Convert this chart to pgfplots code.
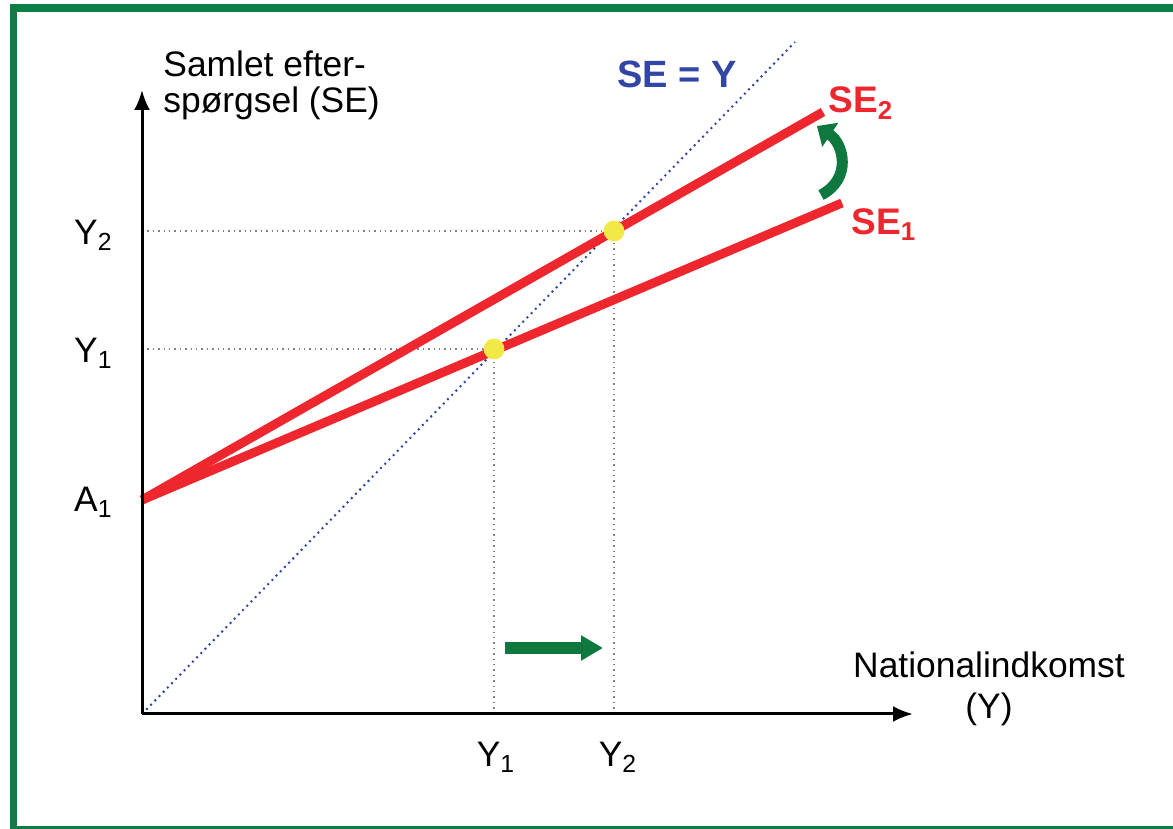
\documentclass[border=0pt]{standalone}
\usepackage{pgfplots}
\pgfplotsset{compat=1.18}
\usepackage{fontspec}
\setmainfont{Liberation Sans}
\usetikzlibrary{arrows.meta}
\definecolor{frame}{RGB}{12,125,68}
\definecolor{sered}{RGB}{238,38,45}
\definecolor{seblue}{RGB}{50,70,165}
\definecolor{dotyel}{RGB}{242,232,70}
\definecolor{arrgreen}{RGB}{14,120,62}
\begin{document}
\begin{tikzpicture}
\begin{axis}[
  scale only axis, width=586.5pt, height=414.5pt,
  xmin=-142, xmax=1031, ymin=-115, ymax=714,
  axis lines=none, clip=false,
]
% frame (runs off right and bottom edges)
\begin{scope}
\clip (rel axis cs:0,0) rectangle (rel axis cs:1,1);
\draw[frame, line width=3.8pt] (axis cs:-128.5,706) rectangle (axis cs:1045,-116);
\end{scope}
% guide lines
\addplot[gray, dotted, line width=0.7pt] coordinates {(352,0) (352,365)};
\addplot[gray, dotted, line width=0.7pt] coordinates {(472,0) (472,483)};
\addplot[gray, dotted, line width=0.7pt] coordinates {(0,365) (352,365)};
\addplot[gray, dotted, line width=0.7pt] coordinates {(0,483) (472,483)};
% 45 degree line
\addplot[seblue, dotted, line width=1pt] coordinates {(0,0) (653,672)};
% SE lines
\addplot[sered, line width=4.5pt] coordinates {(0,214) (700,511)};
\addplot[sered, line width=4.5pt] coordinates {(0,214) (681,602)};
% axes
\draw[black, line width=1.5pt, -{Latex[length=10pt,width=8pt]}] (axis cs:0,0) -- (axis cs:0,624);
\draw[black, line width=1.5pt, -{Latex[length=10pt,width=8pt]}] (axis cs:0,0) -- (axis cs:771,0);
% equilibrium dots
\addplot[only marks, mark=*, mark size=5pt, dotyel, mark options={draw=none, fill=dotyel}] coordinates {(352,365) (472,483)};
% green arrows
\draw[arrgreen, line width=6pt, -{Triangle[length=11pt,width=12pt]}] (axis cs:363,66) -- (axis cs:461,66);
\draw[arrgreen, line width=5.5pt, -{Triangle[length=8pt,width=14pt]}] (axis cs:679,519) .. controls (axis cs:710,535) and (axis cs:702,570) .. (axis cs:675,588);
% texts
\node[anchor=base west, font=\fontsize{17.7}{18}\selectfont, inner sep=0pt] at (axis cs:21,637) {Samlet efter-};
\node[anchor=base west, font=\fontsize{17.7}{18}\selectfont, inner sep=0pt] at (axis cs:21,601) {sp\o rgsel (SE)};
\node[anchor=base, font=\fontsize{17.7}{18}\selectfont] at (axis cs:847,36) {Nationalindkomst};
\node[anchor=base, font=\fontsize{17.7}{18}\selectfont] at (axis cs:847,-5) {(Y)};
\node[anchor=base east, font=\fontsize{17.7}{18}\selectfont, inner sep=0pt] at (axis cs:-29,469) {Y\textsubscript{2}};
\node[anchor=base east, font=\fontsize{17.7}{18}\selectfont, inner sep=0pt] at (axis cs:-29,351) {Y\textsubscript{1}};
\node[anchor=base east, font=\fontsize{17.7}{18}\selectfont, inner sep=0pt] at (axis cs:-29,202) {A\textsubscript{1}};
\node[anchor=base, font=\fontsize{17.7}{18}\selectfont, inner sep=0pt] at (axis cs:354,-53) {Y\textsubscript{1}};
\node[anchor=base, font=\fontsize{17.7}{18}\selectfont, inner sep=0pt] at (axis cs:476,-53) {Y\textsubscript{2}};
\node[anchor=base, font=\bfseries\fontsize{19}{20}\selectfont, text=seblue, inner sep=0pt] at (axis cs:535,626) {SE = Y};
\node[anchor=base west, font=\bfseries\fontsize{18.5}{20}\selectfont, text=sered, inner sep=0pt] at (axis cs:686,601) {SE\textsubscript{2}};
\node[anchor=base west, font=\bfseries\fontsize{18.5}{20}\selectfont, text=sered, inner sep=0pt] at (axis cs:709,479) {SE\textsubscript{1}};
\end{axis}
\end{tikzpicture}
\end{document}
